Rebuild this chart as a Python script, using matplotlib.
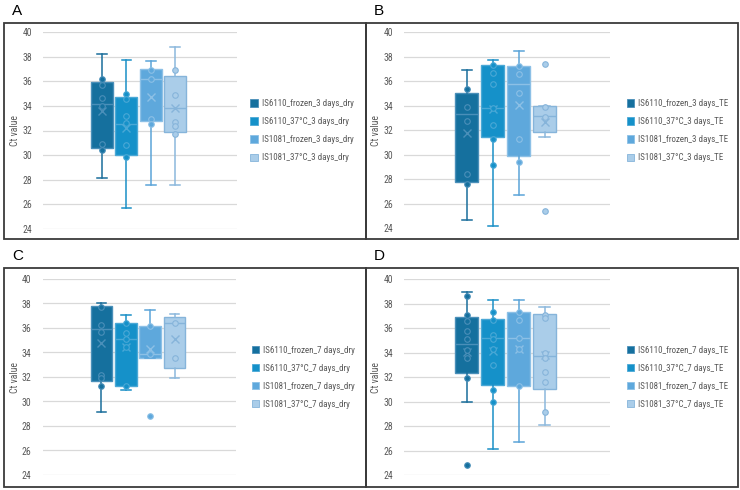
import matplotlib
matplotlib.use("Agg")
import matplotlib.pyplot as plt
from matplotlib.patches import Rectangle, Patch
from matplotlib import font_manager

plt.rcParams['font.family'] = ['Liberation Sans', 'DejaVu Sans']
names = {f.name for f in font_manager.fontManager.ttflist}
narrow = 'Roboto Condensed' if 'Roboto Condensed' in names else 'Liberation Sans'

W, H = 740, 490

# ---- data ----
labels_A = ["IS6110_frozen_3 days_dry", "IS6110_37°C_3 days_dry",
            "IS1081_frozen_3 days_dry", "IS1081_37°C_3 days_dry"]
q1_A = [30.6, 30.0, 32.77, 31.85]
med_A = [34.18, 32.53, 36.2, 33.8]
q3_A = [35.92, 34.73, 37.01, 36.44]
lo_A = [28.1, 25.68, 27.6, 27.55]
hi_A = [38.2, 37.74, 37.69, 38.8]
mean_A = [33.59, 32.17, 34.7, 33.8]
fliers_A = [[], [], [], []]
pts_A = [[36.22, 35.68, 34.62, 34.02, 30.87, 30.43],
         [35.0, 34.54, 33.2, 32.58, 30.82, 29.86],
         [36.9, 36.22, 32.93, 32.55],
         [36.96, 34.89, 32.69, 32.39, 31.71]]

labels_B = ["IS6110_frozen_3 days_TE", "IS6110_37°C_3 days_TE",
            "IS1081_frozen_3 days_TE", "IS1081_37°C_3 days_TE"]
q1_B = [27.78, 31.44, 29.92, 31.87]
med_B = [33.31, 33.83, 35.81, 33.15]
q3_B = [35.02, 37.33, 37.28, 33.95]
lo_B = [24.7, 24.24, 26.76, 31.44]
hi_B = [36.95, 37.77, 38.5, 33.97]
mean_B = [31.75, 33.75, 34.05, 32.71]
fliers_B = [[], [], [], [37.42, 25.46]]
pts_B = [[35.4, 33.89, 32.8, 28.43, 27.61],
         [37.33, 36.71, 35.81, 33.83, 32.42, 31.33, 29.21],
         [37.25, 36.58, 35.03, 31.28, 29.4],
         [33.9, 33.07]]

labels_C = ["IS6110_frozen_7 days_dry", "IS6110_37°C_7 days_dry",
            "IS1081_frozen_7 days_dry", "IS1081_37°C_7 days_dry"]
q1_C = [31.65, 31.27, 33.55, 32.76]
med_C = [35.92, 35.13, 33.85, 36.38]
q3_C = [37.82, 36.38, 36.2, 36.87]
lo_C = [29.17, 30.97, 33.55, 31.89]
hi_C = [38.07, 37.09, 37.47, 37.17]
mean_C = [34.78, 34.45, 34.26, 35.08]
fliers_C = [[], [], [28.82], []]
pts_C = [[37.69, 36.24, 35.65, 32.19, 31.95, 31.27],
         [36.41, 35.62, 35.13, 34.45, 31.27],
         [36.19, 33.88],
         [36.38, 33.58]]

labels_D = ["IS6110_frozen_7 days_TE", "IS6110_37°C_7 days_TE",
            "IS1081_frozen_7 days_TE", "IS1081_37°C_7 days_TE"]
q1_D = [32.36, 31.37, 31.27, 31.0]
med_D = [34.69, 35.21, 35.24, 33.77]
q3_D = [36.92, 36.79, 37.36, 37.2]
lo_D = [29.96, 26.1, 26.73, 28.06]
hi_D = [38.97, 38.34, 38.31, 37.74]
mean_D = [34.07, 34.1, 34.29, 33.8]
fliers_D = [[24.8], [], [], []]
pts_D = [[38.67, 37.09, 36.57, 35.76, 35.13, 34.2, 33.58, 31.95],
         [37.36, 36.71, 35.43, 35.1, 34.34, 32.98, 30.91, 29.98],
         [37.36, 36.71, 35.24, 34.29, 31.27],
         [37.12, 36.87, 33.98, 33.6, 32.39, 31.6, 29.17]]

yticks = [24, 26, 28, 30, 32, 34, 36, 38, 40]

fills = ['#15709e', '#1591c9', '#5ea8dc', '#aacde9']
lines = ['#1a6e9b', '#1a8fc6', '#5ba4d8', '#8cb8dc']
inner = ['#4a8fb9', '#4aa8d6', '#8cc0e6', '#86b4da']

positions = [0.493 + (i - 1.5) * 0.126 for i in range(4)]
grey = '#595959'


def fx(px):
    return px / W


def fy(py):
    return 1 - py / H


def panel(letter, frame, plot, legend_xy, ylab_x, labels, q1, med, q3, lo, hi, mean, fliers, pts):
    # frame around the panel
    x0, y0, x1, y1 = frame
    fig.add_artist(Rectangle((fx(x0), fy(y1)), fx(x1 - x0), (y1 - y0) / H,
                             transform=fig.transFigure, fill=False,
                             edgecolor='#3a3a3a', linewidth=1.3))
    fig.text(fx(x0 + 8), fy(y0 - 12), letter, fontsize=11, va='center', ha='left')

    px0, py0, px1, py1 = plot
    ax = fig.add_axes([fx(px0), fy(py1), fx(px1 - px0), (py1 - py0) / H])
    for i in range(4):
        st = dict(med=med[i], q1=q1[i], q3=q3[i], whislo=lo[i], whishi=hi[i],
                  mean=mean[i], fliers=fliers[i])
        ax.bxp([st], positions=[positions[i]], widths=0.113, patch_artist=True,
               showmeans=True, showcaps=True, capwidths=0.05,
               boxprops=dict(facecolor=fills[i], edgecolor=inner[i], linewidth=1.0),
               medianprops=dict(color=inner[i], linewidth=1.0),
               whiskerprops=dict(color=lines[i], linewidth=1.1),
               capprops=dict(color=lines[i], linewidth=1.1),
               meanprops=dict(marker='x', markeredgecolor=inner[i], markersize=6,
                              markeredgewidth=1.0),
               flierprops=dict(marker='o', markerfacecolor=fills[i], markeredgecolor=inner[i],
                               markersize=4, markeredgewidth=0.8),
               zorder=2)
        ax.plot([positions[i]] * len(pts[i]), pts[i], 'o', markersize=4,
                markerfacecolor=fills[i], markeredgecolor=inner[i], markeredgewidth=0.8,
                zorder=3)
    ax.set_xlim(0, 1)
    ax.set_ylim(24, 40)
    ax.set_yticks(yticks)
    ax.set_xticks([])
    ax.grid(axis='y', color='#d9d9d9', linewidth=0.9)
    ax.set_axisbelow(True)
    for s in ax.spines.values():
        s.set_visible(False)
    ax.tick_params(axis='y', length=0, labelsize=7, labelcolor=grey, pad=8)
    for t in ax.get_yticklabels():
        t.set_family(narrow)
    ax.patch.set_alpha(0)
    fig.text(fx(ylab_x), fy((py0 + py1) / 2), "Ct value", rotation=90, fontsize=7,
             color=grey, va='center', ha='center', family=narrow)

    handles = [Patch(facecolor=fills[i], edgecolor=inner[i], linewidth=0.6) for i in range(4)]
    ax.legend(handles, labels, loc='center left', bbox_to_anchor=(fx(legend_xy[0]), fy(legend_xy[1])),
              bbox_transform=fig.transFigure, frameon=False,
              prop=dict(family=narrow, size=6.5),
              labelcolor=grey, handlelength=0.85, handleheight=0.85, handletextpad=0.45,
              labelspacing=1.0, borderpad=0, borderaxespad=0)


fig = plt.figure(figsize=(W / 100, H / 100), dpi=100)

panel("A", (4, 22.7, 366, 239.5), (43, 32.3, 237, 228.7), (250, 130.7), 15,
      labels_A, q1_A, med_A, q3_A, lo_A, hi_A, mean_A, fliers_A, pts_A)
panel("B", (366, 22.7, 737.5, 239.5), (404.3, 32.3, 610, 228.5), (626.5, 130.7), 376,
      labels_B, q1_B, med_B, q3_B, lo_B, hi_B, mean_B, fliers_B, pts_B)
panel("C", (4, 268.3, 366, 486.7), (42.7, 279, 236, 475), (251.5, 377.4), 15,
      labels_C, q1_C, med_C, q3_C, lo_C, hi_C, mean_C, fliers_C, pts_C)
panel("D", (366, 268.3, 737.5, 486.7), (404.3, 279.3, 610, 475), (626.5, 377.4), 376,
      labels_D, q1_D, med_D, q3_D, lo_D, hi_D, mean_D, fliers_D, pts_D)

fig.savefig("out.png", dpi=100)
